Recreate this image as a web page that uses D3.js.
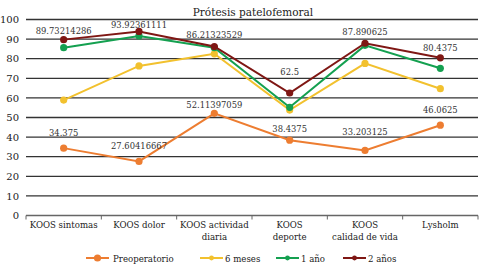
<!DOCTYPE html>
<html>
<head>
<meta charset="utf-8">
<script src="https://cdn.jsdelivr.net/npm/d3@7"></script>
<style>
  body { margin: 0; background: #fff; }
</style>
</head>
<body>
<div id="chart"></div>
<script>
var categories = ["KOOS sintomas", "KOOS dolor", "KOOS actividad diaria", "KOOS deporte", "KOOS calidad de vida", "Lysholm"];
var catLines = [["KOOS sintomas"], ["KOOS dolor"], ["KOOS actividad", "diaria"], ["KOOS", "deporte"], ["KOOS", "calidad de vida"], ["Lysholm"]];
var preoperatorio = [34.375, 27.60416667, 52.11397059, 38.4375, 33.203125, 46.0625];
var seisMeses = [58.9, 76.3, 82.5, 53.8, 77.6, 64.7];
var unAno = [85.6, 91.6, 85.6, 55.2, 86.8, 75.1];
var dosAnos = [89.73214286, 93.92361111, 86.21323529, 62.5, 87.890625, 80.4375];
var preLabels = ["34.375", "27.60416667", "52.11397059", "38.4375", "33.203125", "46.0625"];
var dosLabels = ["89.73214286", "93.92361111", "86.21323529", "62.5", "87.890625", "80.4375"];
var yTicks = [0, 10, 20, 30, 40, 50, 60, 70, 80, 90, 100];

var FONT = "'DejaVu Serif', serif";

var series = [
  {name: "Preoperatorio", values: preoperatorio, color: "#ED7D31", labels: preLabels, lift: [12, 12, 5, 8, 15, 12]},
  {name: "6 meses", values: seisMeses, color: "#F2C12E", labels: null},
  {name: "1 año", values: unAno, color: "#14A050", labels: null},
  {name: "2 años", values: dosAnos, color: "#7F1714", labels: dosLabels, lift: [6, 3, 9, 18, 8, 7]}
];

var W = 479, H = 266;
var margin = {top: 19.5, right: 1, bottom: 50.5, left: 26};
var width = W - margin.left - margin.right;
var height = H - margin.top - margin.bottom;

var svg = d3.select("#chart").append("svg")
    .attr("width", W)
    .attr("height", H)
    .style("font-family", FONT);

var g = svg.append("g")
    .attr("transform", "translate(" + margin.left + "," + margin.top + ")");

var x = d3.scaleBand().domain(categories).range([0, width]);
var y = d3.scaleLinear().domain([0, 100]).range([height, 0]);

// title
svg.append("text")
  .attr("x", 253)
  .attr("y", 16)
  .attr("text-anchor", "middle")
  .style("font-size", "10.5px")
  .style("fill", "#222")
  .text("Prótesis patelofemoral");

// gridlines
g.selectAll(".grid")
  .data(yTicks.filter(function(d) { return d > 0; }))
  .enter().append("line")
    .attr("x1", 0).attr("x2", width)
    .attr("y1", function(d) { return y(d); })
    .attr("y2", function(d) { return y(d); })
    .attr("stroke", "#333")
    .attr("stroke-width", 1.3);

// y axis labels
g.append("g")
  .call(d3.axisLeft(y).tickValues(yTicks).tickSize(0).tickPadding(7))
  .attr("font-family", FONT)
  .call(function(s) { s.select(".domain").remove(); })
  .selectAll("text")
    .style("font-size", "10px")
    .style("fill", "#222");

// x axis
var xAxis = g.append("g")
  .attr("transform", "translate(0," + height + ")");
xAxis.append("line")
  .attr("x1", 0).attr("x2", width)
  .attr("stroke", "#666").attr("stroke-width", 1.5);
xAxis.selectAll(".tk")
  .data(categories.concat(["end"]))
  .enter().append("line")
    .attr("x1", function(d, i) { return i * x.bandwidth(); })
    .attr("x2", function(d, i) { return i * x.bandwidth(); })
    .attr("y1", 0).attr("y2", 4)
    .attr("stroke", "#666").attr("stroke-width", 1);
var xl = xAxis.selectAll(".xl")
  .data(catLines)
  .enter().append("text")
    .attr("text-anchor", "middle")
    .attr("transform", function(d, i) { return "translate(" + (x(categories[i]) + x.bandwidth() / 2) + ",0)"; })
    .style("font-size", "8.6px")
    .style("fill", "#222");
xl.selectAll("tspan")
  .data(function(d) { return d; })
  .enter().append("tspan")
    .attr("x", 0)
    .attr("y", function(d, i) { return 12 + i * 12.7; })
    .text(function(d) { return d; });

var line = d3.line()
  .x(function(d, i) { return x(categories[i]) + x.bandwidth() / 2; })
  .y(function(d) { return y(d); });

series.forEach(function(s) {
  g.append("path")
    .datum(s.values)
    .attr("fill", "none")
    .attr("stroke", s.color)
    .attr("stroke-width", 2)
    .attr("d", line);
  g.selectAll(null)
    .data(s.values)
    .enter().append("circle")
      .attr("cx", function(d, i) { return x(categories[i]) + x.bandwidth() / 2; })
      .attr("cy", function(d) { return y(d); })
      .attr("r", 3.6)
      .attr("fill", s.color);
  if (s.labels) {
    g.selectAll(null)
      .data(s.values)
      .enter().append("text")
        .attr("x", function(d, i) { return x(categories[i]) + x.bandwidth() / 2; })
        .attr("y", function(d, i) { return y(d) - s.lift[i]; })
        .attr("text-anchor", "middle")
        .style("font-size", "8.4px")
        .style("fill", "#333")
        .text(function(d, i) { return s.labels[i]; });
  }
});

// legend
var legendX = [86, 200, 276, 343];
var leg = svg.selectAll(".leg")
  .data(series)
  .enter().append("g")
    .attr("transform", function(d, i) { return "translate(" + legendX[i] + ",258)"; });
leg.append("line")
  .attr("x1", 0).attr("x2", 23)
  .attr("stroke", function(d) { return d.color; })
  .attr("stroke-width", 2);
leg.append("circle")
  .attr("cx", 11.5)
  .attr("r", function(d, i) { return i == 0 ? 3.6 : 2.4; })
  .attr("fill", function(d) { return d.color; });
leg.append("text")
  .attr("x", function(d, i) { return i == 0 ? 27 : 25; })
  .attr("y", 3.5)
  .style("font-size", "8.6px")
  .style("fill", "#222")
  .text(function(d) { return d.name; });
</script>
</body>
</html>
